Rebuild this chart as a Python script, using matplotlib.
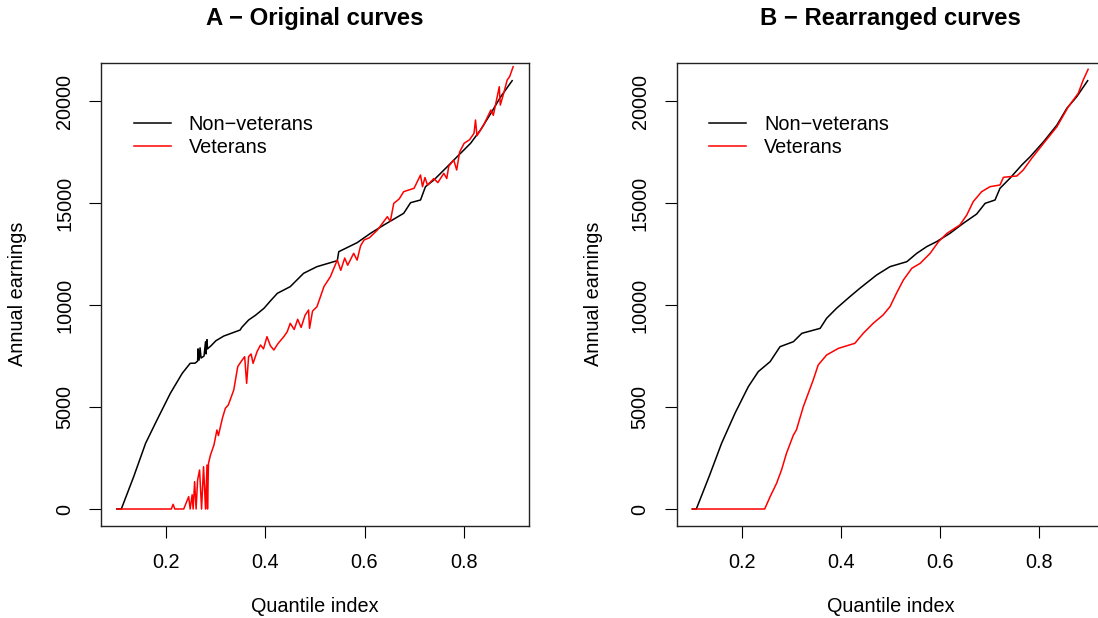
import numpy as np
import matplotlib
matplotlib.use("Agg")
from matplotlib import pyplot as plt

plt.rcParams["font.family"] = ["Liberation Sans", "DejaVu Sans"]

# --- values ---
# Panel A: original (unrearranged) quantile curves
nonvet_q_a = [0.100, 0.109, 0.134, 0.158, 0.181, 0.208, 0.232, 0.248, 0.258, 0.263,
              0.264, 0.266, 0.268, 0.270, 0.276, 0.279, 0.280, 0.282, 0.283, 0.290,
              0.300, 0.316, 0.349, 0.352, 0.366, 0.380, 0.397, 0.410, 0.424, 0.450,
              0.477, 0.504, 0.545, 0.548, 0.585, 0.612, 0.639, 0.679, 0.693, 0.713,
              0.723, 0.740, 0.767, 0.787, 0.814, 0.834, 0.855, 0.875, 0.898]
nonvet_a = [0, 0, 1585, 3220, 4363, 5672, 6652, 7142, 7150, 7250,
            7850, 7300, 7900, 7400, 7500, 8200, 7600, 8300, 7850, 8000,
            8250, 8480, 8775, 8900, 9265, 9500, 9838, 10200, 10573, 10900,
            11554, 11880, 12175, 12614, 13055, 13513, 13922, 14495, 15017, 15147,
            15800, 16128, 16781, 17271, 17925, 18579, 19397, 20211, 20996]

vet_q_a = [0.100, 0.210, 0.2135, 0.217, 0.235, 0.245, 0.248, 0.252, 0.254, 0.257,
           0.260, 0.263, 0.267, 0.271, 0.275, 0.279, 0.282, 0.283, 0.285, 0.289,
           0.296, 0.302, 0.305, 0.313, 0.319, 0.325, 0.336, 0.344, 0.350, 0.358,
           0.362, 0.366, 0.371, 0.375, 0.383, 0.390, 0.396, 0.403, 0.410, 0.417,
           0.425, 0.437, 0.444, 0.450, 0.458, 0.465, 0.472, 0.480, 0.487, 0.489,
           0.495, 0.504, 0.518, 0.531, 0.545, 0.552, 0.560, 0.566, 0.578, 0.585,
           0.592, 0.599, 0.610, 0.626, 0.636, 0.646, 0.652, 0.659, 0.670, 0.679,
           0.700, 0.713, 0.717, 0.722, 0.727, 0.740, 0.748, 0.760, 0.766, 0.770,
           0.780, 0.786, 0.792, 0.801, 0.812, 0.821, 0.824, 0.827, 0.840, 0.855,
           0.860, 0.866, 0.872, 0.874, 0.880, 0.888, 0.893, 0.900]
vet_a = [0, 0, 230, 0, 0, 605, 0, 700, 0, 1340,
         0, 1420, 1912, 0, 2075, 0, 2157, 0, 2240, 2647,
         3137, 3873, 3600, 4445, 4935, 5100, 5833, 6977, 7200, 7467,
         6160, 7467, 7600, 7140, 7712, 8040, 7850, 8447, 8000, 7794,
         8100, 8447, 8693, 9102, 8800, 9300, 8900, 9500, 9755, 8856,
         9700, 9919, 10899, 11388, 12206, 11700, 12300, 11950, 12533, 12200,
         12900, 13186, 13300, 13676, 14000, 14329, 14100, 14984, 15200, 15556,
         15720, 16373, 15800, 16250, 15883, 16200, 16000, 16455, 16200, 16800,
         17108, 16618, 17500, 17926, 18100, 18416, 19069, 18300, 18800, 19559,
         19300, 20000, 20701, 19800, 20300, 21030, 21200, 21682]

# Panel B: rearranged (monotone) quantile curves
nonvet_q_b = [0.100, 0.108, 0.135, 0.159, 0.186, 0.213, 0.233, 0.257, 0.277, 0.304,
              0.321, 0.358, 0.371, 0.391, 0.418, 0.438, 0.472, 0.499, 0.533, 0.553,
              0.573, 0.593, 0.620, 0.647, 0.674, 0.691, 0.711, 0.721, 0.741, 0.765,
              0.782, 0.809, 0.836, 0.856, 0.876, 0.898]
nonvet_b = [0, 0, 1667, 3220, 4690, 5998, 6733, 7223, 7957, 8202,
            8611, 8856, 9348, 9838, 10408, 10817, 11471, 11880, 12124, 12533,
            12860, 13105, 13513, 14005, 14461, 14984, 15147, 15720, 16211, 16863,
            17271, 18006, 18824, 19642, 20211, 20996]

vet_q_b = [0.100, 0.246, 0.257, 0.270, 0.280, 0.290, 0.304, 0.310, 0.324, 0.334,
           0.344, 0.354, 0.371, 0.395, 0.428, 0.445, 0.465, 0.485, 0.499, 0.512,
           0.526, 0.543, 0.560, 0.580, 0.597, 0.614, 0.640, 0.654, 0.667, 0.684,
           0.701, 0.721, 0.728, 0.755, 0.768, 0.785, 0.809, 0.836, 0.859, 0.879,
           0.889, 0.899]
vet_b = [0, 0, 605, 1258, 1912, 2730, 3627, 3872, 5015, 5672,
         6324, 7059, 7549, 7877, 8122, 8612, 9102, 9510, 9919, 10573,
         11226, 11799, 12044, 12533, 13105, 13513, 13922, 14412, 15066, 15556,
         15801, 15883, 16260, 16324, 16618, 17190, 17925, 18741, 19721, 20378,
         21030, 21555]

FS = 14.3
W, H = 1098, 618

fig = plt.figure(figsize=(W / 100, H / 100), dpi=100)

panels = [
    (101.0, "A \u2212 Original curves", nonvet_q_a, nonvet_a, vet_q_a, vet_a),
    (676.5, "B \u2212 Rearranged curves", nonvet_q_b, nonvet_b, vet_q_b, vet_b),
]

for left, title, xq0, y0, xq1, y1 in panels:
    ax = fig.add_axes([left / W, (H - 526) / H, 428 / W, 463 / H])
    ax.plot(xq0, y0, color="black", lw=1.1, label="Non\u2212veterans")
    ax.plot(xq1, y1, color="red", lw=1.1, label="Veterans")
    ax.set_xlim(0.068, 0.932)
    ax.set_ylim(-833, 21863)
    ax.set_xticks([0.2, 0.4, 0.6, 0.8])
    ax.set_xticklabels(["0.2", "0.4", "0.6", "0.8"])
    ax.set_yticks([0, 5000, 10000, 15000, 20000])
    ax.set_yticklabels(["0", "5000", "10000", "15000", "20000"], rotation=90, va="center")
    ax.tick_params(direction="out", length=8.4, width=0.8, pad=11, labelsize=FS)
    for s in ax.spines.values():
        s.set_linewidth(1.0)
        s.set_color("#222222")

    leg = ax.legend(loc="upper left", bbox_to_anchor=(0.077, 0.888), frameon=False,
                    fontsize=FS, handlelength=1.86, handletextpad=0.9,
                    labelspacing=0.2, borderpad=0, borderaxespad=0)

    cx = (left + 214) / W
    fig.text(cx, (H - 18) / H, title, ha="center", va="center",
             fontsize=FS * 1.2, fontweight="bold")
    fig.text(cx, (H - 606) / H, "Quantile index", ha="center", va="center", fontsize=FS)
    fig.text((left - 83) / W, (H - 294) / H, "Annual earnings", ha="center", va="center",
             rotation=90, fontsize=FS)

fig.savefig("out.png", dpi=100)
